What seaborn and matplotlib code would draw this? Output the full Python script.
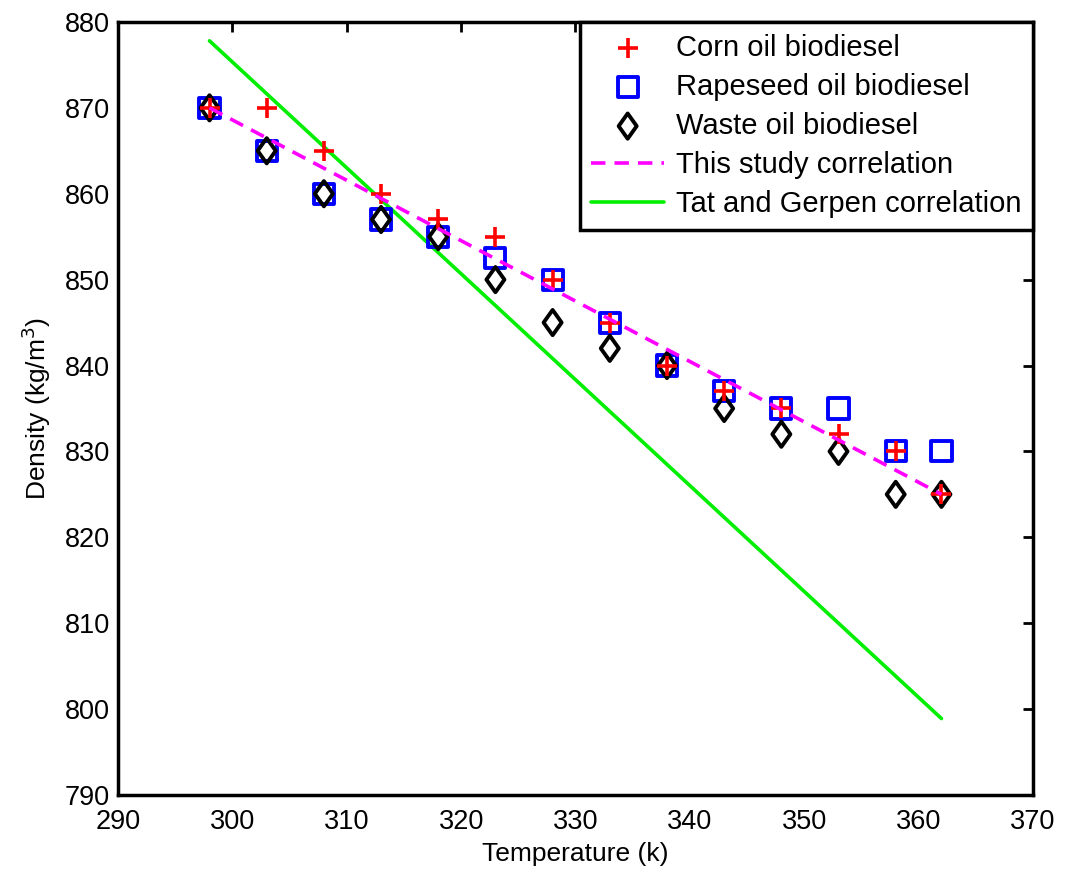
import matplotlib
matplotlib.use("Agg")
import matplotlib.pyplot as plt
import seaborn as sns
import pandas as pd
from matplotlib.markers import MarkerStyle
from matplotlib.transforms import Affine2D

# Measured biodiesel densities versus temperature
temperature = [298, 303, 308, 313, 318, 323, 328, 333, 338, 343, 348, 353, 358, 362]
corn_oil = [870, 870, 865, 860, 857, 855, 850, 845, 840, 837, 835, 832, 830, 825]
rapeseed_oil = [870, 865, 860, 857, 855, 852.5, 850, 845, 840, 837, 835, 835, 830, 830]
waste_oil = [870, 865, 860, 857, 855, 850, 845, 842, 840, 835, 832, 830, 825, 825]

# Correlation lines (end points over the measured temperature range)
corr_temperature = [298, 362]
this_study_corr = [870, 825]
tat_gerpen_corr = [877.8, 798.9]

x_ticks = [290, 300, 310, 320, 330, 340, 350, 360, 370]
y_ticks = [790, 800, 810, 820, 830, 840, 850, 860, 870, 880]

sns.set_style("white")
plt.rcParams["font.family"] = ["Liberation Sans", "DejaVu Sans"]
plt.rcParams["text.color"] = "black"
plt.rcParams["axes.labelcolor"] = "black"

fig = plt.figure(figsize=(10.67, 8.77), dpi=100)
ax = fig.add_axes([0.1106, 0.0935, 0.8575, 0.8815])

meas = pd.DataFrame({"T": temperature, "corn": corn_oil,
                     "rape": rapeseed_oil, "waste": waste_oil})
corr = pd.DataFrame({"T": corr_temperature, "study": this_study_corr,
                     "tat": tat_gerpen_corr})

sns.scatterplot(data=meas, x="T", y="rape", ax=ax, marker="s", s=210,
                facecolor="none", edgecolor="#0000ff", linewidth=2.8,
                label="Rapeseed oil biodiesel", zorder=3)
sns.scatterplot(data=meas, x="T", y="waste", ax=ax, marker="D", s=150,
                facecolor="none", edgecolor="black", linewidth=2.8,
                label="Waste oil biodiesel", zorder=4)
sns.scatterplot(data=meas, x="T", y="corn", ax=ax, marker="+", s=190,
                color="#ff0000", linewidth=2.6,
                label="Corn oil biodiesel", zorder=5)
sns.lineplot(data=corr, x="T", y="study", ax=ax, color="#ff00ff",
             linewidth=2.6, label="This study correlation", zorder=6)
sns.lineplot(data=corr, x="T", y="tat", ax=ax, color="#00ee00",
             linewidth=2.6, label="Tat and Gerpen correlation", zorder=2)
ax.lines[0].set_linestyle((0, (4, 2.5)))

# Diamond taller than wide, like MATLAB's 'd' marker
diamond = MarkerStyle("D", transform=Affine2D().scale(0.75, 1.05))
ax.collections[1].set_paths([diamond.get_path().transformed(diamond.get_transform())])

ax.set_xlim(290, 370)
ax.set_ylim(790, 880)
ax.set_xticks(x_ticks)
ax.set_yticks(y_ticks)
ax.tick_params(direction="in", length=7, width=2, top=True, right=True,
               labelsize=19.5, colors="black")
ax.tick_params(axis="x", pad=10)
ax.tick_params(axis="y", pad=6)
for sp in ax.spines.values():
    sp.set_visible(True)
    sp.set_color("black")
    sp.set_linewidth(2.5)

ax.set_xlabel("Temperature (k)", fontsize=19, labelpad=5)
ax.set_ylabel("Density (kg/m$^3$)", fontsize=19, labelpad=8)

handles, labels = ax.get_legend_handles_labels()
order = ["Corn oil biodiesel", "Rapeseed oil biodiesel", "Waste oil biodiesel",
         "This study correlation", "Tat and Gerpen correlation"]
hmap = dict(zip(labels, handles))
leg = ax.legend([hmap[k] for k in order], order, loc="upper right",
                fontsize=21, frameon=True, fancybox=False, framealpha=1,
                edgecolor="black", borderaxespad=0, handlelength=2.5,
                labelspacing=0.38, borderpad=0.4, handletextpad=0.4)
leg.get_frame().set_linewidth(2.5)

fig.savefig("out.png", dpi=100)
